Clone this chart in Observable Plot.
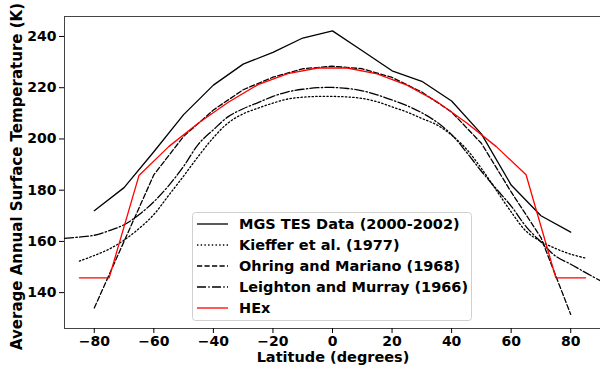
<!DOCTYPE html>
<html>
<head>
<meta charset="utf-8">
<script src="https://cdn.jsdelivr.net/npm/d3@7"></script>
<script src="https://cdn.jsdelivr.net/npm/@observablehq/plot@0.6"></script>
<style>
  html, body { margin: 0; padding: 0; background: white; }
  #wrap { position: relative; width: 600px; height: 369px; overflow: hidden; }
  #legend { position: absolute; left: 192px; top: 212px; }
</style>
</head>
<body>
<div id="wrap"><div id="chart"></div><div id="legend"></div></div>
<script>
// ---- data ----
const xTicks = [-80, -60, -40, -20, 0, 20, 40, 60, 80];
const yTicks = [140, 160, 180, 200, 220, 240];

const mgsLat  = [-80, -70, -60, -50, -40, -30, -20, -10, 0, 10, 20, 30, 40, 50, 60, 70, 80];
const mgsTemp = [172, 181, 195, 209.5, 221, 229.2, 233.8, 239.4, 242.2, 234.4, 226.6, 222.5, 214.8, 202, 182, 170, 163.6];

const kiefferLat  = [-85, -80, -75, -70, -65, -60, -55, -50, -45, -40, -35, -30, -25, -20, -15, -10, -5, 0, 5, 10, 15, 20, 25, 30, 35, 40, 45, 50, 55, 60, 65, 70, 75, 80, 85];
const kiefferTemp = [152.3, 154.5, 157, 160.5, 165, 170.5, 178, 185.5, 193.3, 200.5, 206.3, 209.8, 212, 214, 215.6, 216.3, 216.6, 216.6, 216.4, 215.8, 214.5, 212.5, 210.5, 208, 205.5, 201.5, 196, 188.5, 180, 171.5, 164, 160, 157.2, 155, 153.5];

const ohringLat  = [-80, -70, -60, -50, -40, -30, -20, -10, 0, 10, 20, 30, 40, 50, 60, 70, 80];
const ohringTemp = [134, 160, 186, 201, 211.3, 219.2, 224.1, 227.4, 228.4, 227.4, 224, 218.3, 210.5, 198.3, 179.3, 161.5, 131.5];

const leightonLat  = [-90, -85, -80, -75, -70, -65, -60, -55, -50, -45, -40, -35, -30, -25, -20, -15, -10, -5, 0, 5, 10, 15, 20, 25, 30, 35, 40, 45, 50, 55, 60, 65, 70, 75, 80, 85, 90];
const leightonTemp = [161.2, 161.7, 162.4, 164.2, 166.5, 170.4, 175.5, 181.8, 189.3, 198, 203.6, 208.7, 211.8, 214.2, 216.6, 218.4, 219.4, 220, 220.1, 219.7, 218.8, 217.2, 215.2, 213, 210.2, 206.6, 201.7, 194.8, 187.4, 180.5, 173.8, 165.8, 159.8, 154.2, 151.1, 147.8, 144.6];

const hexLat  = [-85, -75, -65, -55, -45, -35, -25, -15, -5, 5, 15, 25, 35, 45, 55, 65, 75, 85];
const hexTemp = [145.8, 145.8, 185.7, 197, 206.2, 214.3, 221.2, 225.5, 227.7, 227.7, 225.4, 221, 214.6, 206.3, 197, 186, 145.8, 145.8];

const seriesNames = ["MGS TES Data (2000-2002)", "Kieffer et al. (1977)", "Ohring and Mariano (1968)", "Leighton and Murray (1966)", "HEx"];
const seriesColors = ["black", "black", "black", "black", "#ff0000"];
const seriesDash = [null, "1.4,2.3", "5.2,2.3", "9,2.3,1.4,2.3", null];

const xLabel = "Latitude (degrees)";
const yLabel = "Average Annual Surface Temperature (K)";

// ---- build ----
const zip = (xs, ys) => xs.map((x, i) => ({lat: x, temp: ys[i]}));
const seriesData = [
  zip(mgsLat, mgsTemp),
  zip(kiefferLat, kiefferTemp),
  zip(ohringLat, ohringTemp),
  zip(leightonLat, leightonTemp),
  zip(hexLat, hexTemp)
];

const lineMarks = seriesData.map((d, i) => Plot.line(d, {
  x: "lat", y: "temp",
  stroke: seriesColors[i],
  strokeWidth: 1.3,
  strokeDasharray: seriesDash[i] || undefined,
  curve: (i === 1 || i === 3) ? "catmull-rom" : "linear"
}));

const chart = Plot.plot({
  width: 600,
  height: 369,
  marginLeft: 64,
  marginRight: 0,
  marginTop: 16,
  marginBottom: 41,
  style: {fontFamily: "DejaVu Sans", fontSize: "14px", fontWeight: "bold", color: "black", background: "white"},
  x: {domain: [-90, 90]},
  y: {domain: [126, 247.8]},
  marks: [
    Plot.frame({anchor: "left", stroke: "#444", strokeWidth: 1}),
    Plot.frame({anchor: "top", stroke: "#444", strokeWidth: 1}),
    Plot.frame({anchor: "bottom", stroke: "#444", strokeWidth: 1}),
    ...lineMarks,
    Plot.axisX(xTicks, {tickSize: 5, tickPadding: 3, label: null, fontSize: 14, fontWeight: "bold"}),
    Plot.axisY(yTicks, {tickSize: 5, tickPadding: 3, label: null, fontSize: 14, fontWeight: "bold"})
  ]
});
document.getElementById("chart").appendChild(chart);

// axis titles
const svg = d3.select(chart);
svg.append("text")
  .attr("transform", "translate(16.5,176.5) rotate(-90)")
  .attr("text-anchor", "middle").attr("dy", "0.35em")
  .style("font-family", "DejaVu Sans").style("font-weight", "bold").style("font-size", "15px")
  .attr("fill", "black").text(yLabel);
svg.append("text")
  .attr("x", 333).attr("y", 357).attr("text-anchor", "middle").attr("dy", "0.35em")
  .style("font-family", "DejaVu Sans").style("font-weight", "bold").style("font-size", "14.5px")
  .attr("fill", "black").text(xLabel);

// ---- legend ----
const lw = 280, lh = 109;
const leg = d3.select("#legend").append("svg")
  .attr("width", lw).attr("height", lh)
  .style("font-family", "DejaVu Sans").style("font-weight", "bold").style("font-size", "14.5px");
leg.append("rect").attr("x", 0.5).attr("y", 0.5).attr("width", lw - 1).attr("height", lh - 1)
  .attr("rx", 3).attr("fill", "rgba(255,255,255,0.8)").attr("stroke", "#d0d0d0");
seriesNames.forEach((name, i) => {
  const cy = 12 + i * 21;
  leg.append("line").attr("x1", 5).attr("x2", 36).attr("y1", cy).attr("y2", cy)
    .attr("stroke", seriesColors[i]).attr("stroke-width", 1.3)
    .attr("stroke-dasharray", seriesDash[i] || null);
  leg.append("text").attr("x", 47).attr("y", cy).attr("dy", "0.35em").attr("fill", "black").text(name);
});
</script>
</body>
</html>
